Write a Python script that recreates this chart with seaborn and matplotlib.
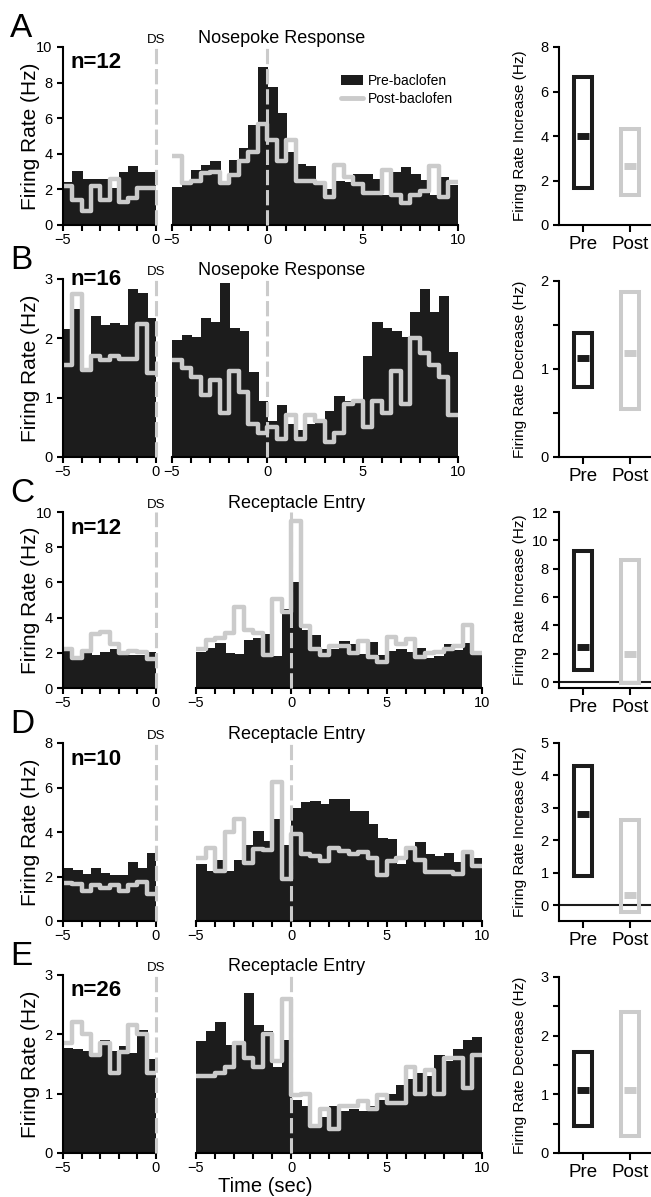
import matplotlib
matplotlib.use("Agg")
import matplotlib.pyplot as plt
import numpy as np
import pandas as pd
import seaborn as sns
from matplotlib.lines import Line2D
from matplotlib.patches import Patch
from matplotlib.ticker import MultipleLocator

PRE_COLOR = "#1c1c1c"
POST_COLOR = "#cbcbcb"
BIN = 0.5

# firing rates (Hz), 0.5 s bins; "ds" = -5..0 s around DS, "ev" = -5..10 s around event
a_pre_ds = [2.4, 3.05, 2.6, 2.6, 2.6, 2.1, 3.0, 3.3, 3.0, 2.95]
a_post_ds = [2.2, 1.4, 0.8, 2.2, 1.4, 2.6, 1.3, 1.5, 2.1, 2.1]
a_pre_ev = [2.15, 2.25, 3.1, 3.35, 3.6, 2.25, 3.65, 4.3, 5.6, 8.85,
            7.75, 6.3, 4.1, 3.4, 3.3, 2.5, 2.05, 2.5, 2.4, 2.85,
            2.85, 2.6, 1.7, 2.95, 3.25, 2.85, 2.55, 1.7, 2.7, 2.25]
a_post_ev = [3.85, 2.35, 2.45, 2.9, 3.0, 2.35, 2.8, 3.6, 4.1, 5.7,
             4.75, 3.6, 4.75, 2.5, 2.5, 2.35, 1.6, 3.35, 2.7, 2.3,
             1.8, 1.8, 3.1, 1.7, 1.25, 1.7, 1.9, 3.3, 1.55, 2.4]

b_pre_ds = [2.16, 2.5, 1.5, 2.37, 2.23, 2.26, 2.23, 2.83, 2.77, 2.34]
b_post_ds = [1.55, 2.75, 1.47, 1.7, 1.63, 1.7, 1.65, 1.65, 2.25, 1.42]
b_pre_ev = [1.97, 2.05, 2.03, 2.35, 2.28, 2.93, 2.17, 2.12, 1.43, 0.95,
            0.6, 0.87, 0.55, 0.45, 0.55, 0.6, 0.78, 1.02, 0.95, 0.97,
            1.7, 2.28, 2.17, 2.12, 2.02, 2.45, 2.83, 2.45, 2.72, 1.77]
b_post_ev = [1.63, 1.5, 1.35, 1.05, 1.3, 0.75, 1.45, 1.1, 0.55, 0.4,
             0.5, 0.3, 0.7, 0.3, 0.7, 0.6, 0.25, 0.4, 0.9, 0.95,
             0.5, 0.95, 0.75, 1.45, 0.9, 2.0, 1.75, 1.55, 1.35, 0.7]

c_pre_ds = [2.35, 1.6, 2.1, 1.85, 2.05, 2.2, 1.9, 1.9, 1.85, 2.05]
c_post_ds = [2.2, 1.7, 2.1, 3.05, 3.2, 2.5, 2.0, 2.1, 2.05, 1.65]
c_pre_ev = [2.05, 2.3, 2.55, 2.0, 1.95, 2.7, 2.85, 3.05, 1.8, 4.5,
            6.0, 3.3, 3.0, 2.2, 2.2, 2.65, 2.5, 1.95, 2.6, 1.85,
            2.1, 2.2, 2.05, 2.25, 1.7, 1.8, 2.5, 2.15, 2.55, 2.05]
c_post_ev = [2.2, 2.75, 2.85, 3.1, 4.6, 3.3, 3.1, 1.9, 5.05, 4.3,
             9.5, 3.55, 2.2, 1.85, 2.4, 2.4, 2.0, 2.65, 1.75, 1.5,
             2.9, 2.5, 2.8, 1.75, 2.0, 2.05, 2.2, 2.4, 3.6, 2.0]

d_pre_ds = [2.4, 2.3, 2.1, 2.4, 2.15, 2.05, 2.05, 2.65, 2.4, 3.05]
d_post_ds = [1.7, 1.65, 1.35, 1.6, 1.5, 1.6, 1.35, 1.6, 1.75, 1.2]
d_pre_ev = [2.55, 2.25, 2.75, 2.25, 2.75, 3.4, 4.05, 3.6, 4.6, 3.4,
            5.1, 5.35, 5.4, 5.25, 5.5, 5.5, 4.95, 4.95, 4.35, 3.75,
            3.7, 2.55, 3.35, 3.55, 3.0, 2.9, 3.05, 2.65, 3.0, 2.85]
d_post_ev = [2.85, 3.3, 2.25, 4.0, 4.6, 2.6, 3.25, 3.2, 6.25, 1.9,
             3.9, 3.0, 2.9, 2.7, 3.3, 3.15, 3.0, 3.1, 2.85, 2.05,
             2.7, 2.85, 3.3, 2.75, 2.2, 2.2, 2.2, 2.1, 3.1, 2.45]

e_pre_ds = [1.77, 1.75, 1.72, 1.62, 1.9, 1.72, 1.8, 1.68, 2.08, 1.58]
e_post_ds = [1.85, 2.2, 2.0, 1.65, 1.85, 1.35, 1.7, 2.15, 2.0, 1.35]
e_pre_ev = [1.88, 2.05, 2.2, 1.82, 1.88, 2.7, 2.15, 2.05, 1.45, 1.9,
            0.9, 0.8, 0.45, 0.6, 0.8, 0.7, 0.75, 0.7, 0.8, 0.9,
            1.0, 1.15, 1.25, 1.35, 1.3, 1.65, 1.55, 1.75, 1.9, 1.95]
e_post_ev = [1.3, 1.3, 1.35, 1.45, 1.85, 1.6, 1.45, 2.0, 1.55, 2.6,
             0.97, 1.0, 0.45, 0.75, 0.4, 0.8, 0.8, 0.87, 0.75, 0.97,
             0.85, 0.85, 1.45, 1.0, 1.4, 1.0, 1.6, 1.6, 1.1, 1.65]

# summary panels: range low/high and central mark
groups = ["Pre", "Post"]
a_low, a_high, a_mid = [1.68, 1.35], [6.65, 4.3], [4.02, 2.65]
b_low, b_high, b_mid = [0.8, 0.54], [1.41, 1.87], [1.13, 1.18]
c_low, c_high, c_mid = [0.85, -0.1], [9.25, 8.6], [2.45, 2.0]
d_low, d_high, d_mid = [0.9, -0.2], [4.3, 2.62], [2.82, 0.32]
e_low, e_high, e_mid = [0.46, 0.29], [1.73, 2.41], [1.07, 1.07]

rows = [
    dict(letter="A", n="n=12", event="Nosepoke Response", ds=(a_pre_ds, a_post_ds), ev=(a_pre_ev, a_post_ev),
         summ=(a_low, a_high, a_mid), top=47, bot=225, ymax=10, ystep=2, mid_x=172, ev_x=0.75, n_y=0.88,
         r_top=47, r_ylim=(0, 8), r_step=2, r_minor=None, r_label="Firing Rate Increase (Hz)", zero=False),
    dict(letter="B", n="n=16", event="Nosepoke Response", ds=(b_pre_ds, b_post_ds), ev=(b_pre_ev, b_post_ev),
         summ=(b_low, b_high, b_mid), top=279, bot=457, ymax=3, ystep=1, mid_x=172, ev_x=0.75, n_y=0.965,
         r_top=281, r_ylim=(0, 2), r_step=1, r_minor=0.5, r_label="Firing Rate Decrease (Hz)", zero=False),
    dict(letter="C", n="n=12", event="Receptacle Entry", ds=(c_pre_ds, c_post_ds), ev=(c_pre_ev, c_post_ev),
         summ=(c_low, c_high, c_mid), top=512, bot=688, ymax=10, ystep=2, mid_x=196, ev_x=0.3, n_y=0.876,
         r_top=512, r_ylim=(-0.42, 12), r_step=2, r_minor=None, r_label="Firing Rate Increase (Hz)", zero=True),
    dict(letter="D", n="n=10", event="Receptacle Entry", ds=(d_pre_ds, d_post_ds), ev=(d_pre_ev, d_post_ev),
         summ=(d_low, d_high, d_mid), top=743, bot=921, ymax=8, ystep=2, mid_x=196, ev_x=0.3, n_y=0.876,
         r_top=743, r_ylim=(-0.49, 5), r_step=1, r_minor=None, r_label="Firing Rate Increase (Hz)", zero=True),
    dict(letter="E", n="n=26", event="Receptacle Entry", ds=(e_pre_ds, e_post_ds), ev=(e_pre_ev, e_post_ev),
         summ=(e_low, e_high, e_mid), top=975, bot=1153, ymax=3, ystep=1, mid_x=196, ev_x=0.3, n_y=0.88,
         r_top=977, r_ylim=(0, 3), r_step=1, r_minor=0.5, r_label="Firing Rate Decrease (Hz)", zero=False),
]

sns.set_style("ticks")
plt.rcParams["font.family"] = ["Liberation Sans", "DejaVu Sans"]
plt.rcParams["axes.linewidth"] = 1.5
for key in ("text.color", "axes.labelcolor", "axes.edgecolor", "xtick.color", "ytick.color"):
    plt.rcParams[key] = "black"
for ax_name in ("xtick", "ytick"):
    for kind in ("major", "minor"):
        plt.rcParams[f"{ax_name}.{kind}.width"] = 1.5
        plt.rcParams[f"{ax_name}.{kind}.size"] = 4
    plt.rcParams[f"{ax_name}.labelsize"] = 10.5

W, H = 651, 1197
fig = plt.figure(figsize=(W / 100, H / 100), dpi=100)


def px_axes(x0, x1, top, bot):
    return fig.add_axes([x0 / W, 1 - bot / H, (x1 - x0) / W, (bot - top) / H])


def draw_psth(ax, start, pre, post):
    centers = start + BIN * np.arange(len(pre)) + BIN / 2
    df = pd.DataFrame({"t": centers, "pre": pre, "post": post})
    rng = (start, start + BIN * len(pre))
    sns.histplot(data=df, x="t", weights="pre", bins=len(pre), binrange=rng,
                 element="bars", color=PRE_COLOR, alpha=1, edgecolor=PRE_COLOR,
                 linewidth=0.6, antialiased=False, ax=ax)
    sns.histplot(data=df, x="t", weights="post", bins=len(post), binrange=rng,
                 element="step", fill=False, color=POST_COLOR, linewidth=3.2, ax=ax)
    ax.axvline(0, color=POST_COLOR, lw=2.2, ls=(0, (5, 1.6)), zorder=4, clip_on=False)
    ax.set_xlabel("")
    ax.set_ylabel("")


for row in rows:
    top, bot = row["top"], row["bot"]

    # left: aligned to DS
    ax_l = px_axes(63, 156, top, bot)
    draw_psth(ax_l, -5, *row["ds"])
    ax_l.set_xlim(-5, 0)
    ax_l.set_ylim(0, row["ymax"])
    ax_l.set_xticks([-5, 0])
    ax_l.xaxis.set_minor_locator(MultipleLocator(1))
    ax_l.yaxis.set_major_locator(MultipleLocator(row["ystep"]))
    ax_l.tick_params(axis="x", pad=2)
    ax_l.set_ylabel("Firing Rate (Hz)", fontsize=15)
    ax_l.yaxis.set_label_coords(-0.25, 0.5)
    sns.despine(ax=ax_l)
    ax_l.text(0.08, row["n_y"], row["n"], transform=ax_l.transAxes, fontsize=16,
              fontweight="bold", va="baseline")
    ax_l.text(0, 1.022, "DS", transform=ax_l.get_xaxis_transform(), ha="center",
              va="baseline", fontsize=9.5)

    # middle: aligned to behavioural event
    ax_m = px_axes(row["mid_x"], row["mid_x"] + 286, top, bot)
    draw_psth(ax_m, -5, *row["ev"])
    ax_m.set_xlim(-5, 10)
    ax_m.set_ylim(0, row["ymax"])
    ax_m.set_xticks([-5, 0, 5, 10])
    ax_m.xaxis.set_minor_locator(MultipleLocator(1))
    ax_m.set_yticks([])
    ax_m.tick_params(axis="x", pad=2)
    sns.despine(ax=ax_m, left=True)
    ax_m.text(row["ev_x"], 1.022, row["event"], transform=ax_m.get_xaxis_transform(),
              ha="center", va="baseline", fontsize=13)

    # right: summary range
    ax_r = px_axes(559, 651, row["r_top"], bot)
    low, high, mid = row["summ"]
    cols = [PRE_COLOR, POST_COLOR]
    xs = np.arange(len(groups))
    ax_r.bar(xs, np.array(high) - np.array(low), bottom=low, width=0.39, fill=False,
             edgecolor=cols, linewidth=2.9, zorder=3)
    for x, m, c in zip(xs, mid, cols):
        ax_r.plot(x, m, marker="_", ms=8, mew=5, color=c, zorder=4)
    if row["zero"]:
        ax_r.axhline(0, color=PRE_COLOR, lw=1.5, zorder=2)
    ax_r.set_xlim(-0.51, 1.45)
    ax_r.set_ylim(*row["r_ylim"])
    ax_r.set_xticks(xs, groups, fontsize=13.5)
    ax_r.tick_params(axis="x", length=5, pad=3)
    ax_r.yaxis.set_major_locator(MultipleLocator(row["r_step"]))
    if row["r_minor"]:
        ax_r.yaxis.set_minor_locator(MultipleLocator(row["r_minor"]))
    ax_r.set_ylabel(row["r_label"], fontsize=11)
    ax_r.yaxis.set_label_coords(-0.35, 0.5)
    sns.despine(ax=ax_r)

    fig.text(10 / W, 1 - (top - 10) / H, row["letter"], fontsize=24, va="baseline")

# legend in panel A middle
legend_ax = fig.axes[1]
handles = [Patch(facecolor=PRE_COLOR, edgecolor="none"),
           Line2D([0], [0], color=POST_COLOR, lw=3.5)]
legend_ax.legend(handles, ["Pre-baclofen", "Post-baclofen"], loc="upper left",
                 bbox_to_anchor=(0.57, 0.88), frameon=False, fontsize=10,
                 handlelength=1.6, handletextpad=0.4, labelspacing=0.3, borderaxespad=0)

fig.text(265 / W, 1 - 1187 / H, "Time (sec)", ha="center", va="center", fontsize=14.5)

fig.savefig("out.png", dpi=100)
